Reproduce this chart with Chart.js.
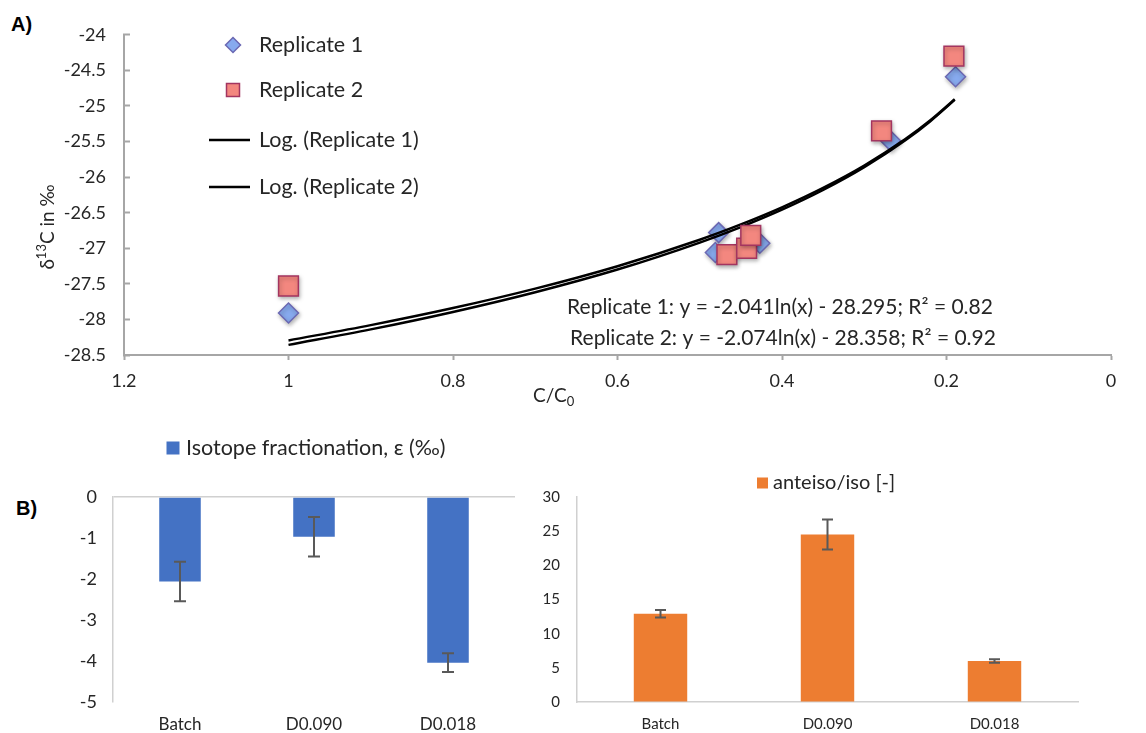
<!DOCTYPE html>
<html>
<head>
<meta charset="utf-8">
<script src="https://cdn.jsdelivr.net/npm/chart.js@4.4.1/dist/chart.umd.min.js"></script>
<style>
  body { margin: 0; background: #fff; width: 1146px; height: 733px; position: relative; overflow: hidden; }
  canvas { position: absolute; }
  .tag { position: absolute; font: bold 20px "Liberation Sans", Arial, sans-serif; color: #000; }
</style>
</head>
<body>
<div class="tag" style="left:11px;top:13px">A)</div>
<div class="tag" style="left:16px;top:497px">B)</div>
<canvas id="chartA" width="1146" height="413" style="left:0;top:0"></canvas>
<canvas id="chartEps" width="530" height="303" style="left:0;top:430px"></canvas>
<canvas id="chartRatio" width="616" height="303" style="left:530px;top:430px"></canvas>
<script>
// panel A: d13C vs remaining fraction C/C0
const rep1X = [1.0, 0.477, 0.481, 0.427, 0.268, 0.189];
const rep1Y = [-27.91, -26.78, -27.06, -26.93, -25.49, -24.59];
const rep2X = [1.0, 0.467, 0.443, 0.438, 0.279, 0.191];
const rep2Y = [-27.53, -27.09, -27.0, -26.82, -25.35, -24.30];
// log trend lines
const trendX = [1.0, 0.9, 0.8, 0.7, 0.6, 0.5, 0.45, 0.4, 0.35, 0.3, 0.25, 0.22, 0.19];
const trend1Y = [-28.295, -28.080, -27.840, -27.567, -27.252, -26.880, -26.665, -26.425, -26.152, -25.838, -25.466, -25.205, -24.906];
const trend2Y = [-28.358, -28.140, -27.895, -27.618, -27.299, -26.920, -26.702, -26.458, -26.181, -25.861, -25.483, -25.218, -24.914];
const fitLabels = ['Replicate 1: y = -2.041ln(x) - 28.295; R² = 0.82',
                   'Replicate 2: y = -2.074ln(x) - 28.358; R² = 0.92'];

// panel B
const conditions = ['Batch', 'D0.090', 'D0.018'];
const epsilon = [-2.06, -0.97, -4.04];
const epsilonErr = [0.48, 0.48, 0.23];
const ratio = [12.9, 24.5, 6.0];
const ratioErr = [0.55, 2.2, 0.25];

const FONT = 'Lato, "Open Sans", sans-serif';
const INK = '#262626';
const pts = (xs, ys) => xs.map((x, i) => ({ x: x, y: ys[i] }));

// legend at fixed spots, Excel style
const panelLegend = {
  id: 'panelLegend',
  afterDraw(chart, args, o) {
    if (!o.rows) return;
    const ctx = chart.ctx;
    ctx.save();
    ctx.font = (o.size || 18) + 'px ' + FONT;
    ctx.textBaseline = 'middle';
    chart.data.datasets.forEach((ds, i) => {
      const y = o.rows[i], x = o.x;
      if (y == null) return;
      ctx.save();
      ctx.fillStyle = ds.backgroundColor;
      ctx.strokeStyle = ds.borderColor;
      ctx.beginPath();
      if (ds.type === 'line') {
        ctx.lineWidth = ds.borderWidth;
        ctx.moveTo(x - 24, y); ctx.lineTo(x + 17, y); ctx.stroke();
      } else if (ds.pointStyle === 'rectRot') {
        const r = 7.5;
        ctx.lineWidth = 1.5;
        ctx.moveTo(x, y - r); ctx.lineTo(x + r, y); ctx.lineTo(x, y + r); ctx.lineTo(x - r, y); ctx.closePath();
        ctx.fill(); ctx.stroke();
      } else if (ds.pointStyle === 'rect') {
        ctx.lineWidth = 1.5;
        ctx.rect(x - 6.5, y - 6.5, 13, 13);
        ctx.fill(); ctx.stroke();
      } else {
        const b = o.box || 13;
        ctx.fillRect(x - b / 2, y - b / 2, b, b);
      }
      ctx.restore();
      ctx.fillStyle = INK;
      ctx.fillText(ds.label, o.textX, y);
    });
    ctx.restore();
  }
};

const errorBars = {
  id: 'errorBars',
  afterDatasetsDraw(chart, args, o) {
    if (!o.errors) return;
    const ctx = chart.ctx, ys = chart.scales.y;
    const vals = chart.data.datasets[0].data;
    const cap = o.cap || 6;
    ctx.save();
    ctx.strokeStyle = '#595959';
    ctx.lineWidth = 2;
    chart.getDatasetMeta(0).data.forEach((bar, i) => {
      const top = ys.getPixelForValue(vals[i] + o.errors[i]);
      const bot = ys.getPixelForValue(vals[i] - o.errors[i]);
      ctx.beginPath();
      ctx.moveTo(bar.x, top); ctx.lineTo(bar.x, bot);
      ctx.moveTo(bar.x - cap, top); ctx.lineTo(bar.x + cap, top);
      ctx.moveTo(bar.x - cap, bot); ctx.lineTo(bar.x + cap, bot);
      ctx.stroke();
    });
    ctx.restore();
  }
};

// soft drop shadow under the markers
const markerShadow = {
  id: 'markerShadow',
  beforeDatasetDraw(chart, args) {
    if (chart.data.datasets[args.index].type === 'line') return;
    const ctx = chart.ctx;
    ctx.save();
    ctx.shadowColor = 'rgba(0,0,0,0.3)';
    ctx.shadowBlur = 4;
    ctx.shadowOffsetX = 1;
    ctx.shadowOffsetY = 2;
  },
  afterDatasetDraw(chart, args) {
    if (chart.data.datasets[args.index].type !== 'line') chart.ctx.restore();
  }
};

// equations and axis titles of panel A (they need sub/superscripts)
const panelText = {
  id: 'panelText',
  afterDraw(chart, args, o) {
    if (!o.fits) return;
    const ctx = chart.ctx;
    const big = o.size + 'px ' + FONT, small = Math.round(o.size * 0.62) + 'px ' + FONT;
    ctx.save();
    ctx.fillStyle = INK;
    ctx.textBaseline = 'middle';
    ctx.font = big;
    ctx.textAlign = 'center';
    o.fits.forEach((t, i) => ctx.fillText(t, o.fitAt[i][0], o.fitAt[i][1]));

    ctx.textAlign = 'left';
    ctx.font = o.titleSize + 'px ' + FONT;
    const [tx, ty] = o.xTitleAt;
    ctx.fillText('C/C', tx, ty);
    const w = ctx.measureText('C/C').width;
    ctx.font = small;
    ctx.fillText('0', tx + w, ty + 6);

    const [yx, yy] = o.yTitleAt;
    ctx.translate(yx, yy);
    ctx.rotate(-Math.PI / 2);
    ctx.font = o.titleSize + 'px ' + FONT;
    const w1 = ctx.measureText('δ').width, w3 = ctx.measureText('C in ‰').width;
    ctx.font = small;
    const w2 = ctx.measureText('13').width;
    let cx = -(w1 + w2 + w3) / 2;
    ctx.font = o.titleSize + 'px ' + FONT;
    ctx.fillText('δ', cx, 0); cx += w1;
    ctx.font = small;
    ctx.fillText('13', cx, -6); cx += w2;
    ctx.font = o.titleSize + 'px ' + FONT;
    ctx.fillText('C in ‰', cx, 0);
    ctx.restore();
  }
};

const trim = v => String(+Number(v).toFixed(2));

new Chart(document.getElementById('chartA'), {
  type: 'scatter',
  data: {
    datasets: [
      { label: 'Replicate 1', data: pts(rep1X, rep1Y), pointStyle: 'rectRot', pointRadius: 10, pointHoverRadius: 10,
        backgroundColor: '#87aaee', borderColor: '#6b68b3', borderWidth: 1.5, order: 2 },
      { label: 'Replicate 2', data: pts(rep2X, rep2Y), pointStyle: 'rect', pointRadius: 14, pointHoverRadius: 14,
        backgroundColor: '#f3877f', borderColor: '#a33560', borderWidth: 1.5, order: 0 },
      { type: 'line', label: 'Log. (Replicate 1)', data: pts(trendX, trend1Y), borderColor: '#000', backgroundColor: '#000',
        borderWidth: 2.5, pointRadius: 0, cubicInterpolationMode: 'monotone', fill: false, order: 1 },
      { type: 'line', label: 'Log. (Replicate 2)', data: pts(trendX, trend2Y), borderColor: '#000', backgroundColor: '#000',
        borderWidth: 2.5, pointRadius: 0, cubicInterpolationMode: 'monotone', fill: false, order: 1 }
    ]
  },
  options: {
    responsive: false,
    animation: false,
    layout: { padding: { top: 26, right: 35, left: 0, bottom: 0 } },
    plugins: {
      legend: { display: false },
      tooltip: { enabled: false },
      panelLegend: { x: 233, textX: 259, rows: [45, 90, 140, 187], size: 21.5 },
      panelText: { size: 21, titleSize: 19, fits: fitLabels, fitAt: [[780, 307], [783, 338]],
                   xTitleAt: [533, 396], yTitleAt: [48, 227] }
    },
    scales: {
      x: {
        type: 'linear', reverse: true, min: 0, max: 1.2,
        afterFit: s => { s.height = 58; },
        border: { color: '#a6a6a6', width: 2 },
        grid: { drawOnChartArea: false, tickLength: 5, color: '#a6a6a6', tickWidth: 2 },
        ticks: { stepSize: 0.2, padding: 10, color: INK, font: { family: FONT, size: 18 }, maxRotation: 0, callback: trim }
      },
      y: {
        min: -28.5, max: -24,
        afterFit: s => { s.width = 124; },
        border: { color: '#a6a6a6', width: 2 },
        grid: { drawOnChartArea: false, tickLength: -6, color: '#a6a6a6', tickWidth: 2 },
        ticks: { stepSize: 0.5, padding: 24, color: INK, font: { family: FONT, size: 18 }, callback: trim }
      }
    }
  },
  plugins: [markerShadow, panelLegend, panelText]
});

new Chart(document.getElementById('chartEps'), {
  type: 'bar',
  data: {
    labels: conditions,
    datasets: [{ label: 'Isotope fractionation, ε (‰)', data: epsilon, backgroundColor: '#4472c4',
                 barPercentage: 0.31, categoryPercentage: 1 }]
  },
  options: {
    responsive: false,
    animation: false,
    layout: { padding: { top: 67, right: 15, left: 0, bottom: 0 } },
    plugins: {
      legend: { display: false },
      tooltip: { enabled: false },
      panelLegend: { x: 173, textX: 186, rows: [18], size: 21.5, box: 13 },
      errorBars: { errors: epsilonErr, cap: 6 }
    },
    scales: {
      x: {
        afterFit: s => { s.height = 31; },
        border: { display: false },
        grid: { display: false, drawTicks: false },
        ticks: { padding: 12, color: INK, font: { family: FONT, size: 17 } }
      },
      y: {
        min: -5, max: 0,
        afterFit: s => { s.width = 113; },
        border: { color: '#d0d0d0', width: 1.5 },
        grid: { color: c => (c.tick && c.tick.value === 0) ? '#d0d0d0' : 'rgba(0,0,0,0)', lineWidth: 1.5, drawTicks: false },
        ticks: { stepSize: 1, padding: 16, color: INK, font: { family: FONT, size: 18 } }
      }
    }
  },
  plugins: [errorBars, panelLegend]
});

new Chart(document.getElementById('chartRatio'), {
  type: 'bar',
  data: {
    labels: conditions,
    datasets: [{ label: 'anteiso/iso [-]', data: ratio, backgroundColor: '#ed7d31',
                 barPercentage: 0.32, categoryPercentage: 1 }]
  },
  options: {
    responsive: false,
    animation: false,
    layout: { padding: { top: 67, right: 68, left: 0, bottom: 0 } },
    plugins: {
      legend: { display: false },
      tooltip: { enabled: false },
      panelLegend: { x: 232.5, textX: 243, rows: [53], size: 20, box: 11 },
      errorBars: { errors: ratioErr, cap: 5.5 }
    },
    scales: {
      x: {
        afterFit: s => { s.height = 31; },
        border: { color: '#d0d0d0', width: 1.5 },
        grid: { display: false, drawTicks: false },
        ticks: { padding: 13, color: INK, font: { family: FONT, size: 15 } }
      },
      y: {
        min: 0, max: 30,
        afterFit: s => { s.width = 47; },
        border: { color: '#d0d0d0', width: 1.5 },
        grid: { drawOnChartArea: false, drawTicks: false },
        ticks: { stepSize: 5, padding: 17, color: INK, font: { family: FONT, size: 15 } }
      }
    }
  },
  plugins: [errorBars, panelLegend]
});
</script>
</body>
</html>
